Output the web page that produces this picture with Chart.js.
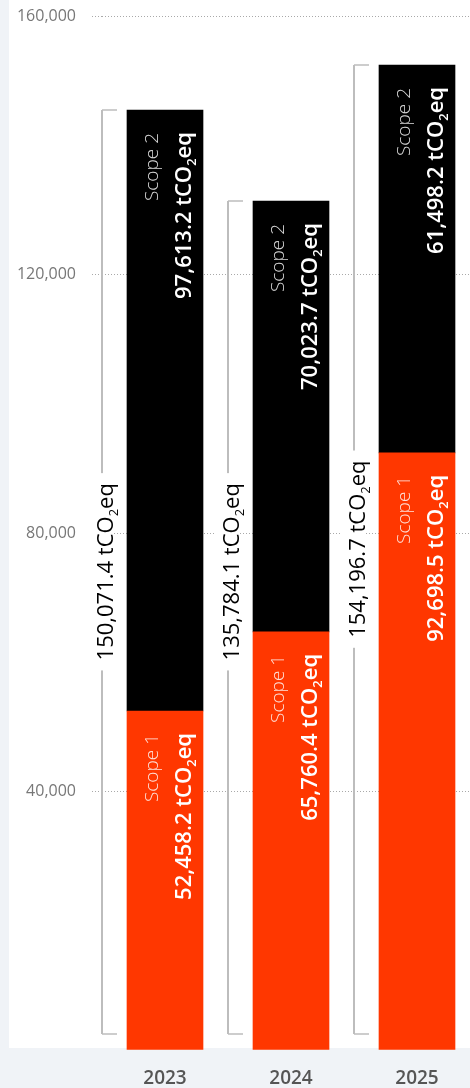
<!DOCTYPE html>
<html><head><meta charset="utf-8">
<script src="https://cdn.jsdelivr.net/npm/chart.js@4.4.1/dist/chart.umd.min.js"></script>
<style>
html,body{margin:0;padding:0;overflow:hidden;background:#f0f3f7;width:470px;height:1088px}
#panel{position:absolute;left:9px;top:0;width:461px;height:1048px;background:#fff}
#wrap{position:absolute;left:0;top:0;width:490px;height:1088px}
</style></head><body>
<div id="panel"></div>
<div id="wrap"><canvas id="c"></canvas></div>
<script>
const categories = ['2023', '2024', '2025'];
const seriesNames = ['Scope 1', 'Scope 2'];
const scope1Values = [52460, 64700, 92400];
const scope2Values = [92990, 66670, 60020];
const scope1Labels = ['52,458.2', '65,760.4', '92,698.5'];
const scope2Labels = ['97,613.2', '70,023.7', '61,498.2'];
const totalLabels = ['150,071.4', '135,784.1', '154,196.7'];
const unitLabel = ['tCO', '2', 'eq'];
const yTicks = [0, 40000, 80000, 120000, 160000];

function drawRich(ctx, x, y, parts, align) {
  let w = 0;
  parts.forEach(p => { ctx.font = p.font; p.w = ctx.measureText(p.text).width; w += p.w; });
  let sx = align === 'right' ? x - w : (align === 'center' ? x - w / 2 : x);
  ctx.textAlign = 'left';
  ctx.textBaseline = 'alphabetic';
  parts.forEach(p => {
    ctx.font = p.font; ctx.fillStyle = p.color;
    ctx.fillText(p.text, sx, y + (p.dy || 0));
    sx += p.w;
  });
  return w;
}
function measureRich(ctx, parts) {
  let w = 0;
  parts.forEach(p => { ctx.font = p.font; w += ctx.measureText(p.text).width; });
  return w;
}
function valueParts(value, size, weight, color) {
  const f = weight + ' ' + size + 'px "Open Sans"';
  const fs = weight + ' ' + Math.round(size * 0.58) + 'px "Open Sans"';
  return [
    {text: value + ' ' + unitLabel[0], font: f, color: color},
    {text: unitLabel[1], font: fs, color: color, dy: size * 0.22},
    {text: unitLabel[2], font: f, color: color}
  ];
}

const bracketPlugin = {
  id: 'bracketLabels',
  afterDatasetsDraw(chart, args, opts) {
    const ctx = chart.ctx;
    const yS = chart.scales.y;
    const m0 = chart.getDatasetMeta(0), m1 = chart.getDatasetMeta(1);
    const base = yS.getPixelForValue(0);
    categories.forEach((c, i) => {
      const b1 = m0.data[i], b2 = m1.data[i];
      const left = b1.x - b1.width / 2;
      const cx = b1.x;
      const top = b2.y;
      const bx = left - 25;
      const bBottom = base - 16;
      ctx.save();
      ctx.strokeStyle = '#bdbdbd';
      ctx.lineWidth = 2;
      ctx.beginPath(); ctx.moveTo(bx, top); ctx.lineTo(bx, bBottom); ctx.stroke();
      ctx.lineWidth = 1.5;
      ctx.beginPath();
      ctx.moveTo(bx, top); ctx.lineTo(bx + 15, top);
      ctx.moveTo(bx, bBottom); ctx.lineTo(bx + 15, bBottom);
      ctx.stroke();
      // total label
      const tParts = valueParts(totalLabels[i], 22, '400', '#000');
      const w = measureRich(ctx, tParts);
      const cy = yS.getPixelForValue(opts.totalLabelAt[i]);
      ctx.fillStyle = '#fff';
      ctx.fillRect(bx - 12, cy - w / 2 - 10, 24, w + 20);
      ctx.translate(bx + 11, cy);
      ctx.rotate(-Math.PI / 2);
      drawRich(ctx, 0, 0, tParts, 'center');
      ctx.restore();
      // in-bar labels
      const segs = [
        {top: b1.y, name: seriesNames[0], val: scope1Labels[i]},
        {top: b2.y, name: seriesNames[1], val: scope2Labels[i]}
      ];
      segs.forEach(s => {
        ctx.save();
        ctx.translate(cx - 7, s.top + 23);
        ctx.rotate(-Math.PI / 2);
        drawRich(ctx, 0, 0, [{text: s.name, font: '300 19px "Open Sans"', color: 'rgba(255,255,255,0.85)'}], 'right');
        ctx.restore();
        ctx.save();
        ctx.translate(cx + 26, s.top + 22);
        ctx.rotate(-Math.PI / 2);
        drawRich(ctx, 0, 0, valueParts(s.val, 22, '600', '#fff'), 'right');
        ctx.restore();
      });
    });
  }
};

const gridColor = c => (c.tick && c.tick.value === 0) ? 'rgba(0,0,0,0)' : '#a9a9a9';

new Chart(document.getElementById('c'), {
  type: 'bar',
  data: {
    labels: categories,
    datasets: [
      {label: seriesNames[0], data: scope1Values, backgroundColor: '#ff3700', barThickness: 76},
      {label: seriesNames[1], data: scope2Values, backgroundColor: '#000000', barThickness: 76}
    ]
  },
  plugins: [bracketPlugin],
  options: {
    responsive: true,
    maintainAspectRatio: false,
    animation: false,
    layout: {padding: {top: 16, right: 10, left: 0, bottom: 0}},
    plugins: {
      legend: {display: false},
      tooltip: {enabled: false},
      bracketLabels: {totalLabelAt: [74000, 74000, 77500]}
    },
    scales: {
      x: {
        stacked: true,
        offset: true,
        grid: {display: false, drawTicks: false},
        border: {display: false},
        ticks: {padding: 17, color: '#555', font: {family: 'Open Sans', size: 19, weight: '600'}},
        afterFit: s => { s.height = 38; }
      },
      y: {
        stacked: true,
        min: 0,
        max: 160000,
        afterBuildTicks: s => { s.ticks = yTicks.map(v => ({value: v})); },
        ticks: {
          padding: 16,
          color: '#777',
          font: {family: 'Open Sans', size: 16},
          callback: v => v === 0 ? '' : Number(v).toLocaleString('en-US')
        },
        grid: {color: gridColor, tickColor: gridColor, tickLength: 10, lineWidth: 1, tickBorderDash: [1, 2]},
        border: {display: false, dash: [1, 2]},
        afterFit: s => { s.width = 102; s.paddingTop = 10; s.paddingBottom = 0; }
      }
    }
  }
});
</script>
</body></html>
